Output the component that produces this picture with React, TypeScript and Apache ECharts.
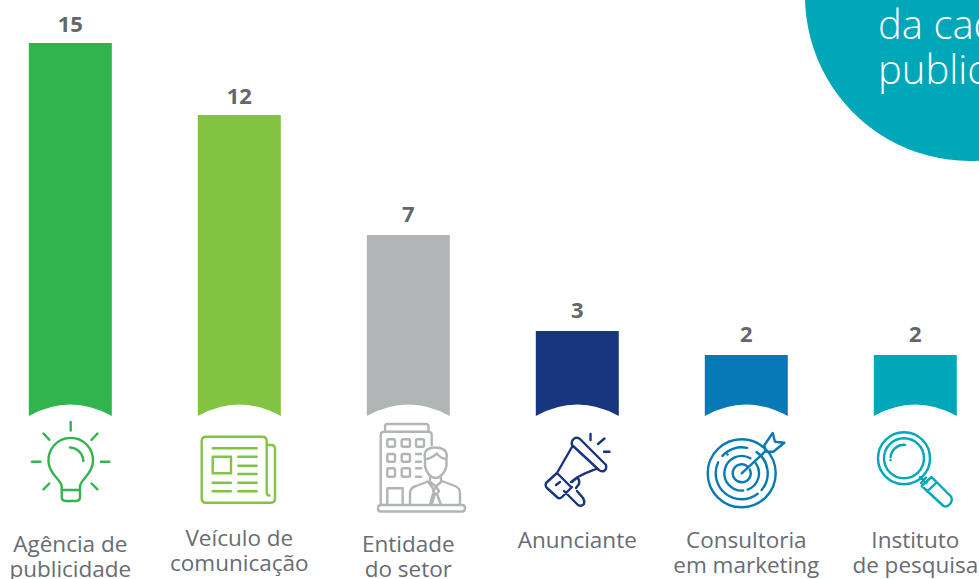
import React, { useEffect, useRef } from "react";
import * as echarts from "echarts";

const categories = [
  "Agência de\npublicidade",
  "Veículo de\ncomunicação",
  "Entidade\ndo setor",
  "Anunciante",
  "Consultoria\nem marketing",
  "Instituto\nde pesquisa",
];
const values = [15, 12, 7, 3, 2, 2];
const colors = ["#31b44b", "#82c341", "#b1b5b5", "#17367f", "#0679b6", "#00a7b8"];
const calloutLines = ["da cad", "public"];

const arc = (cx: number, cy: number, r: number, a0: number, a1: number) => {
  const p = (a: number) => [cx + r * Math.cos((a * Math.PI) / 180), cy + r * Math.sin((a * Math.PI) / 180)];
  const [x0, y0] = p(a0);
  const [x1, y1] = p(a1);
  return `M${x0} ${y0}A${r} ${r} 0 ${a1 - a0 > 180 ? 1 : 0} 1 ${x1} ${y1}`;
};
const circle = (cx: number, cy: number, r: number) => arc(cx, cy, r, 0, 180) + arc(cx, cy, r, 180, 360);
const rrect = (x: number, y: number, w: number, h: number, r: number) =>
  `M${x + r} ${y}H${x + w - r}Q${x + w} ${y} ${x + w} ${y + r}V${y + h - r}Q${x + w} ${y + h} ${x + w - r} ${y + h}H${x + r}Q${x} ${y + h} ${x} ${y + h - r}V${y + r}Q${x} ${y} ${x + r} ${y}Z`;

const icons: Record<string, { d: string; color: string }> = {
  iconBulb: {
    color: colors[0],
    d:
      "M70.7 422V430.5M32 461.7H40.5M101 461.7H109.3M43.5 433.5L49.3 439.8M97.5 433.5L91.5 439.8M43.5 489.3L49.3 483.5M97.5 489.3L91.5 483.5" +
      "M61.7 490V486C60.5 479 49 474 48.5 461.7A22.3 22.3 0 1 1 93 461.7C92.5 474 81 479 80 486V490Z" +
      "M61.7 490H80V497Q80 501 76 501H66Q61.7 501 61.7 497Z" +
      "M70 447.5A14 14 0 0 1 83.3 461",
  },
  iconNews: {
    color: colors[1],
    d:
      "M266.7 445H271Q275 445 275 449V498Q275 502.7 270.7 502.7H206Q201.7 502.7 201.7 498.4V441Q201.7 436.7 206 436.7H262.4Q266.7 436.7 266.7 441V492Q266.7 495.5 269.5 495.5" +
      "M212.7 448.3H256.7M238.3 456.7H256.7M238.3 465.7H256.7M238.3 474H256.7M212.7 482.7H231M238.3 482.7H256.7M212.7 491.3H231M238.3 491.3H256.7" +
      "M212.7 456.7H231V473.3H212.7Z",
  },
  iconBuilding: {
    color: colors[2],
    d:
      "M385 431.7V426.5Q385 424 387.5 424H426Q428.5 424 428.5 426.5V431.7" +
      "M380.7 505V435Q380.7 431.7 384 431.7H428.5Q431.7 431.7 431.7 435V445" +
      rrect(378, 505, 87, 6.5, 3) +
      rrect(387.3, 439.3, 7.7, 7.4, 1.5) + rrect(401.7, 439.3, 8.3, 7.4, 1.5) + rrect(416, 439.3, 8, 7.4, 1.5) +
      rrect(387.3, 454, 7.7, 7.7, 1.5) + rrect(401.7, 454, 8.3, 7.7, 1.5) +
      rrect(387.3, 468.3, 7.7, 8.4, 1.5) + rrect(401.7, 468.3, 8.3, 8.4, 1.5) +
      "M416 454H421M416 461.7H421M416 468.3H421M416 476.7H421" +
      "M387.3 505V488.3H402.7V505" +
      "M425 458C423 450 429 447.5 435 447.5C442 447.5 448 450 446.5 458V466C445 473 440 478 435.5 478C431 478 426 473 425 466Z" +
      "M425.5 459C430 459 434 456 437 453.5C439 457 443 458.5 446 459" +
      "M430 478V482L436 486.5L441 482V478" +
      "M410 505V493Q410 488 416 486L428 481.5L434 490L430 505M443 481.5L455 486Q460 488 460 493V505M436 487L433 491L435 494L431.5 505M436 487L439 491L437 494L441 505",
  },
  iconMegaphone: {
    color: colors[3],
    d:
      "M572 445Q571 440 575 438Q578 437 580 439L606 465Q607 469 604 471Q601 472 599 470Z" +
      "M572.5 446L557 473L571 487M597 468.5C588 472 578 475 571 482M557 473L546 483Q545 486 547 488L558 498Q560 499 562 497L572 487" +
      "M556 485L560 482M564 491L578 505Q581 507 584 504Q585 501 583 498L577 491M572 482L577 477.5Q580 480 579 484L576 488" +
      "M590.5 434V440M598 444L604.5 438.5M604 451.7H609.5",
  },
  iconTarget: {
    color: colors[4],
    d:
      circle(741.7, 473.3, 34) +
      arc(741.7, 473.3, 26, -55, 40) + arc(741.7, 473.3, 26, 52, 205) + arc(741.7, 473.3, 26, 222, 282) +
      arc(741.7, 473.3, 17.3, -35, 70) + arc(741.7, 473.3, 17.3, 85, 300) +
      arc(741.7, 473.3, 9, -25, 305) +
      "M741.7 473.3L765 451.7M765 450.5L764.5 445L772.7 433L775 441.7L784.3 442.7L773.3 451.7L767 451.7Z" +
      "M727.5 454.5h0.1M755 484.5h0.1",
  },
  iconLens: {
    color: colors[5],
    d:
      circle(904, 458.3, 26) + circle(904, 458.3, 20) +
      arc(904, 458.3, 13.5, 185, 275) +
      "M890.5 460h0.1" +
      "M920 477L926.5 483M926 477.5L921 483" +
      "M921.7 486L931.5 477L951 496.5Q953 500 950 504Q947 507.5 943.5 506Z" +
      "M927 491.5L936.5 482.5",
  },
};

Object.entries(icons).forEach(([name, icon]) => {
  echarts.graphic.registerShape(name, echarts.graphic.extendPath(icon.d, {}) as any);
});

const labelTop = (i: number) => (i === 0 || i === 2 ? 6 : i === 1 ? 0 : 2);
const valueGap = (i: number) => (i < 2 ? 9 : 11);

export default function App() {
  const ref = useRef<HTMLDivElement>(null);
  useEffect(() => {
    const chart = echarts.init(ref.current!, undefined, { renderer: "svg" });
    const font = '"Open Sans", sans-serif';
    chart.setOption({
      animation: false,
      backgroundColor: "#ffffff",
      grid: { left: -14.2, top: 43, width: 1014, height: 360, containLabel: false, outerBoundsMode: "none" },
      xAxis: {
        type: "category",
        data: categories.map((value, i) => ({ value, textStyle: { padding: [labelTop(i), 0, 0, 0] } })),
        axisLine: { show: false },
        axisTick: { show: false },
        axisLabel: {
          interval: 0,
          margin: 122,
          fontFamily: font,
          fontSize: 22.5,
          lineHeight: 25,
          color: "#696c71",
          verticalAlign: "top",
          align: "center",
        },
      },
      yAxis: { type: "value", min: 0, max: 15, show: false, splitLine: { show: false } },
      series: [
        {
          type: "bar",
          barWidth: 83,
          data: values.map((value, i) => ({
            value,
            itemStyle: { color: colors[i] },
            label: { distance: valueGap(i) },
          })),
          label: {
            show: true,
            position: "top",
            fontFamily: font,
            fontSize: 22,
            fontWeight: "bold",
            color: "#63666a",
          },
        },
        {
          type: "custom",
          data: categories.map((_, i) => [i, 0]),
          encode: { x: 0, y: 1 },
          silent: true,
          renderItem: (params: any, api: any) => {
            const [cx, y0] = api.coord([api.value(0), 0]);
            const l = cx - 41.5;
            const r = cx + 41.5;
            return {
              type: "path",
              shape: {
                pathData: `M${l} ${y0 - 0.5}L${r} ${y0 - 0.5}L${r} ${y0 + 13}Q${cx} ${y0 - 9.8} ${l} ${y0 + 13}Z`,
              },
              style: { fill: colors[params.dataIndex] },
            };
          },
        },
      ],
      graphic: [
        { type: "circle", shape: { cx: 970, cy: -4, r: 165 }, style: { fill: colors[5] } },
        ...calloutLines.map((text, i) => ({
          type: "text",
          x: 878,
          y: 3 + i * 45.5,
          style: {
            text,
            fill: "#ffffff",
            font: `300 40px ${font}`,
            verticalAlign: "top",
          },
        })),
        ...Object.entries(icons).map(([name, icon]) => ({
          type: name,
          x: 0,
          y: 0,
          style: { fill: "none", stroke: icon.color, lineWidth: 2.4, lineCap: "round", lineJoin: "round" },
        })),
      ],
    });
    return () => chart.dispose();
  }, []);
  return <div ref={ref} style={{ position: "absolute", left: 0, top: 0, width: 979, height: 579, overflow: "hidden" }} />;
}
